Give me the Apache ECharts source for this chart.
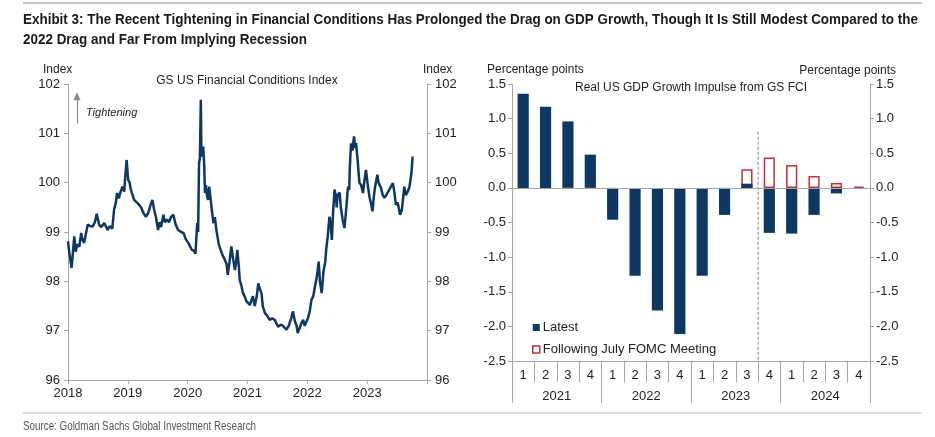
<!DOCTYPE html>
<html>
<head>
<meta charset="utf-8">
<script src="https://cdn.jsdelivr.net/npm/echarts@6/dist/echarts.min.js"></script>
<style>
html,body{margin:0;padding:0;background:#fff;}
#chart{width:935px;height:437px;}
</style>
</head>
<body>
<div id="chart"></div>
<script>
// ---------- Data ----------
// Left panel: GS US Financial Conditions Index (decimal year, index level)
const fciYear = [
2018.00,2018.02,2018.06,2018.08,2018.105,2018.13,2018.155,2018.19,2018.22,2018.24,2018.27,2018.305,2018.33,2018.37,2018.41,2018.45,2018.48,2018.52,2018.555,2018.605,2018.64,2018.66,2018.70,2018.74,2018.77,2018.80,2018.82,2018.85,2018.87,2018.91,2018.94,2018.955,2018.98,2019.005,2019.03,2019.05,2019.105,2019.16,2019.22,2019.255,2019.30,2019.34,2019.38,2019.41,2019.44,2019.47,2019.505,
2019.53,2019.555,2019.595,2019.62,2019.655,2019.69,2019.72,2019.76,2019.80,2019.84,2019.89,2019.93,2019.97,2020.01,2020.07,2020.105,2020.13,2020.16,2020.175,2020.19,2020.205,2020.22,2020.23,2020.245,2020.26,2020.275,2020.29,2020.305,2020.32,2020.34,2020.36,2020.39,2020.43,2020.455,2020.48,2020.52,2020.57,2020.595,2020.62,2020.65,2020.67,2020.70,2020.73,2020.76,2020.79,2020.81,2020.83,2020.855,2020.87,2020.90,2020.925,2020.955,2020.98,2021.01,
2021.04,2021.06,2021.09,2021.12,2021.155,2021.18,2021.205,2021.235,2021.255,2021.29,2021.33,2021.37,2021.41,2021.455,2021.51,2021.555,2021.59,2021.65,2021.69,2021.73,2021.76,2021.79,2021.82,2021.84,2021.87,2021.90,2021.93,2021.955,2021.98,2022.01,2022.04,2022.07,2022.10,2022.12,2022.15,2022.17,2022.19,2022.21,2022.24,2022.27,2022.30,2022.315,2022.34,2022.37,2022.39,2022.41,2022.43,2022.455,
2022.48,2022.49,2022.505,2022.54,2022.56,2022.59,2022.62,2022.645,2022.68,2022.70,2022.71,2022.73,2022.755,2022.78,2022.80,2022.815,2022.84,2022.87,2022.90,2022.93,2022.955,2022.98,2023.005,2023.04,2023.06,2023.09,2023.11,2023.13,2023.17,2023.19,2023.23,2023.26,2023.29,2023.32,2023.37,2023.43,2023.455,2023.48,2023.51,2023.55,2023.58,2023.62,2023.645,2023.67,2023.705,2023.74,2023.76
];
const fciIndex = [
98.81,98.60,98.27,98.55,98.91,98.60,98.75,98.70,98.98,98.85,98.78,99.00,99.15,99.12,99.11,99.20,99.37,99.15,99.10,99.18,99.10,99.04,99.12,99.07,99.45,99.60,99.79,99.68,99.78,99.92,99.82,100.10,100.46,100.06,100.00,99.86,99.65,99.59,99.50,99.40,99.31,99.38,99.55,99.65,99.45,99.30,99.04,
99.20,99.10,99.35,99.20,99.25,99.20,99.30,99.35,99.15,99.04,99.00,98.98,98.85,98.78,98.64,98.62,98.56,99.18,99.00,100.40,100.50,101.68,100.53,100.60,100.73,100.40,99.79,99.95,99.75,99.65,99.92,99.60,99.18,99.30,99.04,98.75,98.57,98.50,98.44,98.35,98.13,98.40,98.71,98.45,98.23,98.40,98.64,98.30,98.03,97.90,97.76,97.69,97.60,97.56,
97.52,97.60,97.70,97.50,97.70,97.96,97.85,97.75,97.50,97.36,97.30,97.22,97.25,97.22,97.08,97.12,97.10,97.02,97.10,97.25,97.39,97.20,97.10,96.95,97.05,97.15,97.22,97.10,97.08,97.25,97.40,97.63,97.70,97.85,98.03,98.20,98.40,98.00,97.76,98.20,98.40,98.64,98.90,99.31,99.15,98.84,99.40,99.86,
99.70,99.50,99.75,99.80,99.50,99.25,99.08,99.40,99.92,99.85,100.30,100.80,100.65,100.94,100.70,100.80,100.46,100.00,99.95,99.79,100.05,100.26,100.00,99.70,99.60,99.42,99.70,99.90,100.16,100.00,99.90,99.75,99.69,99.75,99.86,99.99,99.80,99.55,99.60,99.35,99.45,99.92,99.75,99.80,99.90,100.20,100.53
];
const fciYearTicks = [2018, 2019, 2020, 2021, 2022, 2023];

// Right panel: Real US GDP growth impulse from GS FCI (percentage points)
const quarterLabels = ['1','2','3','4','1','2','3','4','1','2','3','4','1','2','3','4'];
const yearLabels = ['2021','2022','2023','2024'];
const latest = [1.36,1.17,0.96,0.48,-0.46,-1.27,-1.77,-2.11,-1.27,-0.39,0.06,-0.65,-0.66,-0.39,-0.08,0.00];
const followingJulyFOMC = [null,null,null,null,null,null,null,null,null,null,0.27,0.44,0.33,0.17,0.07,0.02];
const forecastDividerIndex = 11;      // boundary before 2023 Q4
const forecastDividerTop = 0.81;

// ---------- Styles ----------
const NAVY = '#0c3863';
const RED = '#c62f33';
const AXIS = '#a6a6a6';
const FONT = "'Liberation Sans', Arial, sans-serif";

const TITLE_TEXT = 'Exhibit 3: The Recent Tightening in Financial Conditions Has Prolonged the Drag on GDP Growth, Though It Is Still Modest Compared to the';
const TITLE_TEXT2 = '2022 Drag and Far From Implying Recession';
const SOURCE_TEXT = 'Source: Goldman Sachs Global Investment Research';

// condensed look: horizontally compress regular fonts to the reference text widths
const mctx = document.createElement('canvas').getContext('2d');
function widthOf(font, text) { mctx.font = font; return mctx.measureText(text).width; }
const TITLE_FONT = 'bold 15px ' + FONT;
const titleScale = 895 / widthOf(TITLE_FONT, TITLE_TEXT);
const SOURCE_FONT = '12px ' + FONT;
const sourceScale = 233 / widthOf(SOURCE_FONT, SOURCE_TEXT);

const chart = echarts.init(document.getElementById('chart'), null, {renderer: 'canvas'});

const axisLabelStyle = {color: '#222', fontFamily: FONT, fontSize: 13};

const option = {
  animation: false,
  backgroundColor: '#fff',
  textStyle: {fontFamily: FONT},
  grid: [
    {left: 68, right: 508, top: 84, bottom: 57, containLabel: false},
    {left: 512, right: 65, top: 84, bottom: 76, containLabel: false}
  ],
  xAxis: [
    {
      gridIndex: 0, type: 'value', min: 2018, max: 2024, interval: 1,
      axisLine: {show: true, lineStyle: {color: AXIS, width: 1}},
      axisTick: {show: true, length: 4, lineStyle: {color: AXIS}},
      splitLine: {show: false},
      axisLabel: Object.assign({}, axisLabelStyle, {
        margin: 7,
        formatter: v => fciYearTicks.indexOf(v) >= 0 ? String(v) : ''
      })
    },
    {
      gridIndex: 1, type: 'category', data: quarterLabels, position: 'bottom',
      axisLine: {show: true, onZero: false, lineStyle: {color: AXIS, width: 1}},
      axisTick: {show: true, interval: 0, length: 21, alignWithLabel: false, lineStyle: {color: AXIS}},
      axisLabel: Object.assign({}, axisLabelStyle, {interval: 0, margin: 8}),
      splitLine: {show: false}
    },
    {
      gridIndex: 1, type: 'category', data: yearLabels, position: 'bottom',
      axisLine: {show: false, onZero: false},
      axisTick: {show: true, interval: 0, length: 42, alignWithLabel: false, lineStyle: {color: AXIS}},
      axisLabel: Object.assign({}, axisLabelStyle, {interval: 0, margin: 29}),
      splitLine: {show: false}
    },
    {
      gridIndex: 1, type: 'value', min: 0, max: quarterLabels.length, show: false
    }
  ],
  yAxis: [
    {
      gridIndex: 0, type: 'value', min: 96, max: 102, interval: 1, position: 'left',
      axisLine: {show: true, lineStyle: {color: AXIS}},
      axisTick: {show: true, length: 4, lineStyle: {color: AXIS}},
      splitLine: {show: false},
      axisLabel: Object.assign({}, axisLabelStyle, {margin: 8})
    },
    {
      gridIndex: 0, type: 'value', min: 96, max: 102, interval: 1, position: 'right',
      axisLine: {show: true, lineStyle: {color: AXIS}},
      axisTick: {show: true, length: 4, lineStyle: {color: AXIS}},
      splitLine: {show: false},
      axisLabel: Object.assign({}, axisLabelStyle, {margin: 8})
    },
    {
      gridIndex: 1, type: 'value', min: -2.5, max: 1.5, interval: 0.5, position: 'left',
      axisLine: {show: true, onZero: false, lineStyle: {color: AXIS}},
      axisTick: {show: true, length: 4, lineStyle: {color: AXIS}},
      splitLine: {show: false},
      axisLabel: Object.assign({}, axisLabelStyle, {margin: 6, formatter: v => v.toFixed(1)})
    },
    {
      gridIndex: 1, type: 'value', min: -2.5, max: 1.5, interval: 0.5, position: 'right',
      axisLine: {show: true, onZero: false, lineStyle: {color: AXIS}},
      axisTick: {show: true, length: 4, lineStyle: {color: AXIS}},
      splitLine: {show: false},
      axisLabel: Object.assign({}, axisLabelStyle, {margin: 6, formatter: v => v.toFixed(1)})
    }
  ],
  legend: {
    orient: 'vertical', left: 527, top: 316, itemGap: 9,
    itemWidth: 7, itemHeight: 7, icon: 'rect',
    textStyle: {color: '#222', fontFamily: FONT, fontSize: 13, padding: [0, 0, 0, -2]},
    data: [
      {name: 'Latest', itemStyle: {color: NAVY}},
      {name: 'Following July FOMC Meeting', itemStyle: {color: '#fff', borderColor: RED, borderWidth: 1.5}}
    ]
  },
  series: [
    {
      name: 'GS US FCI', type: 'line', xAxisIndex: 0, yAxisIndex: 0,
      data: fciYear.map((x, i) => [x, fciIndex[i]]),
      showSymbol: false, symbol: 'none',
      lineStyle: {color: NAVY, width: 2.5},
      markLine: {
        silent: true, symbol: ['none', 'triangle'], symbolSize: [7, 8],
        label: {show: false},
        lineStyle: {color: '#8a8a8a', width: 1.2, type: 'solid'},
        data: [[{coord: [2018.15, 101.2]}, {coord: [2018.15, 101.75]}]]
      }
    },
    {
      name: 'Following July FOMC Meeting', type: 'bar', xAxisIndex: 1, yAxisIndex: 2,
      data: followingJulyFOMC, barWidth: '50%',
      itemStyle: {color: '#fff', borderColor: RED, borderWidth: 1.5}
    },
    {
      name: 'Latest', type: 'bar', xAxisIndex: 1, yAxisIndex: 2,
      data: latest, barWidth: '50%', barGap: '-100%',
      itemStyle: {color: NAVY},
      markLine: {
        silent: true, symbol: 'none', label: {show: false},
        lineStyle: {color: AXIS, width: 1, type: 'solid'},
        data: [{yAxis: 0}]
      }
    },
    {
      name: 'divider', type: 'line', xAxisIndex: 3, yAxisIndex: 2,
      data: [[forecastDividerIndex, forecastDividerTop], [forecastDividerIndex, -2.5]],
      showSymbol: false, symbol: 'none', silent: true,
      lineStyle: {color: '#7f7f7f', width: 1, type: [3, 2]}
    }
  ],
  graphic: [
    {type: 'line', shape: {x1: 23, y1: 3, x2: 922, y2: 3}, style: {stroke: '#c8c8c8', lineWidth: 2}},
    {type: 'text', x: 23, y: 20, scaleX: titleScale, style: {text: TITLE_TEXT, font: TITLE_FONT, fill: '#1a1a1a', textVerticalAlign: 'middle'}},
    {type: 'text', x: 23, y: 40, scaleX: titleScale, style: {text: TITLE_TEXT2, font: TITLE_FONT, fill: '#1a1a1a', textVerticalAlign: 'middle'}},
    {type: 'text', left: 43, top: 64, style: {text: 'Index', font: '12px ' + FONT, fill: '#222'}},
    {type: 'text', left: 423, top: 64, style: {text: 'Index', font: '12px ' + FONT, fill: '#222'}},
    {type: 'text', x: 247, y: 81, style: {text: 'GS US Financial Conditions Index', font: '12px ' + FONT, fill: '#222', textAlign: 'center', textVerticalAlign: 'middle'}},
    {type: 'text', x: 86, y: 113, style: {text: 'Tightening', font: 'italic 11px ' + FONT, fill: '#222', textVerticalAlign: 'middle'}},
    {type: 'text', left: 487, top: 64, style: {text: 'Percentage points', font: '12px ' + FONT, fill: '#222'}},
    {type: 'text', x: 896, y: 71, style: {text: 'Percentage points', font: '12px ' + FONT, fill: '#222', textAlign: 'right', textVerticalAlign: 'middle'}},
    {type: 'text', x: 691, y: 88, style: {text: 'Real US GDP Growth Impulse from GS FCI', font: '12px ' + FONT, fill: '#222', textAlign: 'center', textVerticalAlign: 'middle'}},
    {type: 'line', shape: {x1: 23, y1: 413, x2: 922, y2: 413}, style: {stroke: '#cfcfcf', lineWidth: 1.5}},
    {type: 'text', x: 23, y: 427, scaleX: sourceScale, style: {text: SOURCE_TEXT, font: SOURCE_FONT, fill: '#555', textVerticalAlign: 'middle'}}
  ]
};
chart.setOption(option);
</script>
</body>
</html>
